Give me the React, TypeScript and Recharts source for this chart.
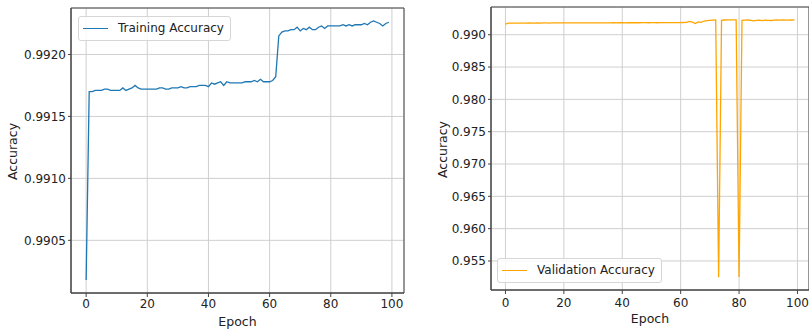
import React from "react";
import {
  LineChart,
  Line,
  XAxis,
  YAxis,
  CartesianGrid,
  Legend,
  ReferenceArea,
  Label,
} from "recharts";

// epoch index 0..99
const epochs = Array.from({ length: 100 }, (_, i) => i);

const trainingAccuracy = [
  0.99018, 0.9917, 0.9917, 0.99171, 0.99171, 0.99171, 0.99172, 0.99172, 0.99171, 0.99171,
  0.99171, 0.99171, 0.99173, 0.99171, 0.99172, 0.99173, 0.99175, 0.99173, 0.99172, 0.99172,
  0.99172, 0.99172, 0.99172, 0.99172, 0.99173, 0.99173, 0.99172, 0.99172, 0.99173, 0.99173,
  0.99173, 0.99174, 0.99173, 0.99173, 0.99174, 0.99174, 0.99174, 0.99175, 0.99175, 0.99175,
  0.99174, 0.99177, 0.99176, 0.99177, 0.99178, 0.99175, 0.99178, 0.99177, 0.99177, 0.99177,
  0.99177, 0.99177, 0.99178, 0.99178, 0.99178, 0.99179, 0.99178, 0.9918, 0.99178, 0.99178,
  0.99178, 0.99179, 0.99182, 0.99215, 0.99218, 0.99219, 0.99219, 0.9922, 0.9922, 0.99222,
  0.99219, 0.99221, 0.9922, 0.99222, 0.9922, 0.9922, 0.99222, 0.99223, 0.99221, 0.99223,
  0.99223, 0.99223, 0.99223, 0.99223, 0.99224, 0.99223, 0.99224, 0.99223, 0.99224, 0.99224,
  0.99224, 0.99225, 0.99224, 0.99226, 0.99227, 0.99226, 0.99225, 0.99223, 0.99225, 0.99226,
];

const validationAccuracy = [
  0.99165, 0.9918, 0.99181, 0.9918, 0.99181, 0.99181, 0.9918, 0.99181, 0.99182, 0.99181,
  0.99181, 0.99182, 0.99181, 0.99182, 0.99182, 0.99181, 0.99182, 0.99183, 0.99182, 0.99182,
  0.99182, 0.99183, 0.99182, 0.99183, 0.99183, 0.99182, 0.99183, 0.99184, 0.99183, 0.99183,
  0.99184, 0.99183, 0.99184, 0.99184, 0.99183, 0.99184, 0.99184, 0.99185, 0.99184, 0.99185,
  0.99185, 0.99184, 0.99185, 0.99185, 0.99186, 0.99185, 0.99185, 0.99186, 0.99186, 0.99185,
  0.99186, 0.99186, 0.99185, 0.99186, 0.99187, 0.99186, 0.99186, 0.99187, 0.99186, 0.99187,
  0.99188, 0.99189, 0.9919, 0.99205, 0.99195, 0.99172, 0.99198, 0.99192, 0.99212, 0.99218,
  0.99222, 0.99225, 0.99228, 0.9525, 0.99222, 0.99228, 0.9923, 0.9923, 0.9923, 0.9923,
  0.95252, 0.99222, 0.99225, 0.99228, 0.99222, 0.99215, 0.99222, 0.99225, 0.99218, 0.99226,
  0.99222, 0.9922, 0.99226, 0.99228, 0.99226, 0.99228, 0.99227, 0.99226, 0.99228, 0.9923,
];

const epochTicks = [0, 20, 40, 60, 80, 100];
const trainTicks = [0.9905, 0.991, 0.9915, 0.992];
const valTicks = [0.955, 0.96, 0.965, 0.97, 0.975, 0.98, 0.985, 0.99];

const trainData = epochs.map((epoch, i) => ({ epoch, acc: trainingAccuracy[i] }));
const valData = epochs.map((epoch, i) => ({ epoch, acc: validationAccuracy[i] }));

const xDomain: [number, number] = [-4.95, 103.95];
const trainDomain: [number, number] = [0.990075, 0.992375];
const valDomain: [number, number] = [0.95051, 0.99429];

const FONT = "DejaVu Sans";
const tickStyle = { fill: "#222", fontSize: 12, fontFamily: FONT };

const YTitle = (props: any) => {
  const { viewBox, cx } = props;
  const cy = viewBox.y + viewBox.height / 2 + 1;
  return (
    <text
      x={cx}
      y={cy}
      transform={`rotate(-90, ${cx}, ${cy})`}
      textAnchor="middle"
      dominantBaseline="central"
      fontSize={12.5}
      fontFamily={FONT}
      fill="#222"
    >
      Accuracy
    </text>
  );
};

const LegendBox = ({ color, text }: { color: string; text: string }) => (
  <div
    style={{
      display: "flex",
      alignItems: "center",
      border: "1px solid #d6d6d6",
      borderRadius: 3,
      background: "rgba(255,255,255,0.85)",
      padding: "4px 6px 4px 4px",
      fontSize: 12,
      fontFamily: FONT,
      color: "#222",
      lineHeight: "15px",
      whiteSpace: "nowrap",
    }}
  >
    <span style={{ width: 25, height: 0, borderTop: `1.5px solid ${color}`, marginRight: 10 }} />
    <span>{text}</span>
  </div>
);

export default function App() {
  return (
    <div
      style={{
        position: "absolute",
        left: 0,
        top: 0,
        width: 809,
        height: 330,
        background: "#fff",
        overflow: "hidden",
        fontFamily: FONT,
      }}
    >
      <div style={{ position: "absolute", left: 0, top: 0 }}>
        <LineChart width={410} height={330} data={trainData} margin={{ top: 8, right: 6, bottom: 0, left: 0 }}>
          <CartesianGrid stroke="#cfcfcf" strokeWidth={1} />
          <XAxis
            dataKey="epoch"
            type="number"
            domain={xDomain}
            ticks={epochTicks}
            allowDataOverflow
            height={37}
            tick={tickStyle}
            tickSize={4}
            tickMargin={2}
            stroke="#444"
          >
            <Label value="Epoch" position="insideBottom" offset={4} fontSize={12.5} fontFamily={FONT} fill="#222" />
          </XAxis>
          <YAxis
            type="number"
            domain={trainDomain}
            ticks={trainTicks}
            allowDataOverflow
            width={71}
            tick={tickStyle}
            tickSize={3}
            tickMargin={2}
            tickFormatter={(v: number) => v.toFixed(4)}
            stroke="#444"
          >
            <Label content={(p: any) => <YTitle {...p} cx={12} />} />
          </YAxis>
          <ReferenceArea x1={xDomain[0]} x2={xDomain[1]} y1={trainDomain[0]} y2={trainDomain[1]} fill="none" stroke="#444" strokeWidth={1} />
          <Line
            dataKey="acc"
            type="linear"
            stroke="#1f77b4"
            strokeWidth={1.3}
            dot={false}
            isAnimationActive={false}
          />
          <Legend
            layout="horizontal"
            verticalAlign="middle"
            align="center"
            wrapperStyle={{ left: 78, top: 16, width: "auto" }}
            content={() => <LegendBox color="#1f77b4" text="Training Accuracy" />}
          />
        </LineChart>
      </div>
      <div style={{ position: "absolute", left: 400, top: 0 }}>
        <LineChart width={409} height={330} data={valData} margin={{ top: 7, right: 0, bottom: 0, left: 0 }}>
          <CartesianGrid stroke="#cfcfcf" strokeWidth={1} />
          <XAxis
            dataKey="epoch"
            type="number"
            domain={xDomain}
            ticks={epochTicks}
            allowDataOverflow
            height={40}
            tick={tickStyle}
            tickSize={4}
            tickMargin={4}
            stroke="#444"
          >
            <Label value="Epoch" position="insideBottom" offset={7} fontSize={12.5} fontFamily={FONT} fill="#222" />
          </XAxis>
          <YAxis
            type="number"
            domain={valDomain}
            ticks={valTicks}
            allowDataOverflow
            width={91}
            tick={tickStyle}
            tickSize={3}
            tickMargin={2}
            tickFormatter={(v: number) => v.toFixed(3)}
            stroke="#444"
          >
            <Label content={(p: any) => <YTitle {...p} cx={42} />} />
          </YAxis>
          <ReferenceArea x1={xDomain[0]} x2={xDomain[1]} y1={valDomain[0]} y2={valDomain[1]} fill="none" stroke="#444" strokeWidth={1} />
          <Line
            dataKey="acc"
            type="linear"
            stroke="#ffa500"
            strokeWidth={1.3}
            dot={false}
            isAnimationActive={false}
          />
          <Legend
            layout="horizontal"
            verticalAlign="middle"
            align="center"
            wrapperStyle={{ left: 97, top: 258, width: "auto" }}
            content={() => <LegendBox color="#ffa500" text="Validation Accuracy" />}
          />
        </LineChart>
      </div>
    </div>
  );
}
